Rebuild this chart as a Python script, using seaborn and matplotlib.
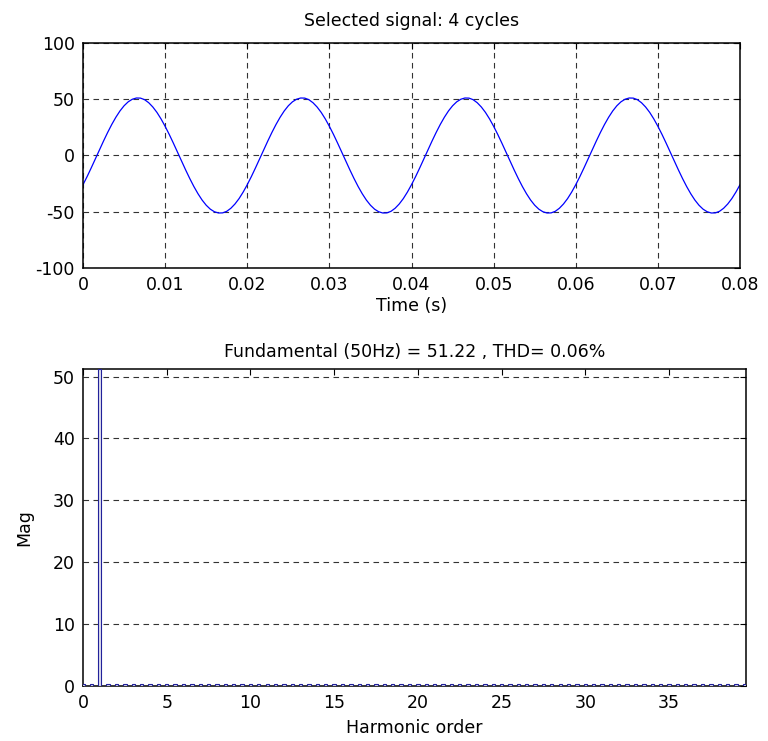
import numpy as np
import pandas as pd
import matplotlib
matplotlib.use("Agg")
import matplotlib.pyplot as plt
import seaborn as sns

# ---- Signal: one 50 Hz cycle sampled every 0.5 ms, shown over 4 cycles ----
sample_step = 0.0005
cycle_values = [
    -25.9, -18.7, -11.0, -3.0, 5.0, 12.9, 20.5, 27.6, 34.0, 39.6,
    44.2, 47.7, 50.0, 51.1, 51.0, 49.6, 46.9, 43.1, 38.3, 32.5,
    25.9, 18.7, 11.0, 3.0, -5.0, -12.9, -20.5, -27.6, -34.0, -39.6,
    -44.2, -47.7, -50.0, -51.1, -51.0, -49.6, -46.9, -43.1, -38.3, -32.5,
]
n_cycles = 4
signal_values = cycle_values * n_cycles + [cycle_values[0]]
signal_time = [i * sample_step for i in range(len(signal_values))]

time_ticks = [0, 0.01, 0.02, 0.03, 0.04, 0.05, 0.06, 0.07, 0.08]
time_tick_labels = ["0", "0.01", "0.02", "0.03", "0.04", "0.05", "0.06", "0.07", "0.08"]
signal_ticks = [-100, -50, 0, 50, 100]

# ---- Spectrum: harmonic orders (0.5 steps) and magnitudes ----
fundamental = 51.22
thd_percent = 0.06
harmonic_orders = [i * 0.5 for i in range(80)]
harmonic_mag = [0.3] * len(harmonic_orders)
harmonic_mag[harmonic_orders.index(1.0)] = fundamental

harm_ticks = [0, 5, 10, 15, 20, 25, 30, 35]
mag_ticks = [0, 10, 20, 30, 40, 50]

sig_df = pd.DataFrame({"t": signal_time, "v": signal_values})
harm_df = pd.DataFrame({"order": harmonic_orders, "mag": harmonic_mag})

sns.set_style("white")
plt.rcParams["font.family"] = ["DejaVu Sans"]
plt.rcParams["axes.unicode_minus"] = False
plt.rcParams["text.color"] = "black"
plt.rcParams["axes.labelcolor"] = "black"
FS = 12.5

fig = plt.figure(figsize=(7.68, 7.41), dpi=100)
ax1 = fig.add_axes([0.1081, 0.6383, 0.8555, 0.3037])
ax2 = fig.add_axes([0.1081, 0.0742, 0.8633, 0.4278])


def style_axes(ax, grid_axis):
    for s in ax.spines.values():
        s.set_visible(True)
        s.set_color("black")
        s.set_linewidth(1.1)
    ax.tick_params(direction="in", length=4, width=0.8, top=True, right=True,
                   labelsize=FS, colors="black", pad=6)
    ax.grid(True, axis=grid_axis, color="#333333", linestyle=(0, (5, 4)),
            linewidth=0.8)
    ax.set_axisbelow(True)


# Top: time-domain signal
sns.lineplot(data=sig_df, x="t", y="v", ax=ax1, color="#0000ff", linewidth=0.9)
ax1.set_xlim(0, 0.08)
ax1.set_ylim(-100, 100)
ax1.set_xticks(time_ticks)
ax1.set_xticklabels(time_tick_labels)
ax1.set_yticks(signal_ticks)
ax1.set_xlabel("Time (s)", fontsize=FS, labelpad=2, color="black")
ax1.set_ylabel("")
ax1.set_title("Selected signal: 4 cycles", fontsize=FS, pad=12, color="black")
style_axes(ax1, "both")

# Bottom: harmonic spectrum
sns.barplot(data=harm_df, x="order", y="mag", ax=ax2, native_scale=True,
            width=0.4, color="#dcdcf0", edgecolor="#22229a", linewidth=0.8,
            errorbar=None)
for p in ax2.patches:
    p.set_zorder(3)
ax2.set_xlim(0, 39.6)
ax2.set_ylim(0, fundamental)
ax2.set_xticks(harm_ticks)
ax2.set_xticklabels([str(t) for t in harm_ticks])
ax2.set_yticks(mag_ticks)
ax2.set_xlabel("Harmonic order", fontsize=FS, labelpad=5, color="black")
ax2.set_ylabel("Mag", fontsize=FS, labelpad=14, color="black")
ax2.set_title(f"Fundamental (50Hz) = {fundamental:.2f} , THD= {thd_percent:.2f}%",
              fontsize=FS, pad=9, color="black")
style_axes(ax2, "y")

fig.savefig("out.png", dpi=100, facecolor="white")
